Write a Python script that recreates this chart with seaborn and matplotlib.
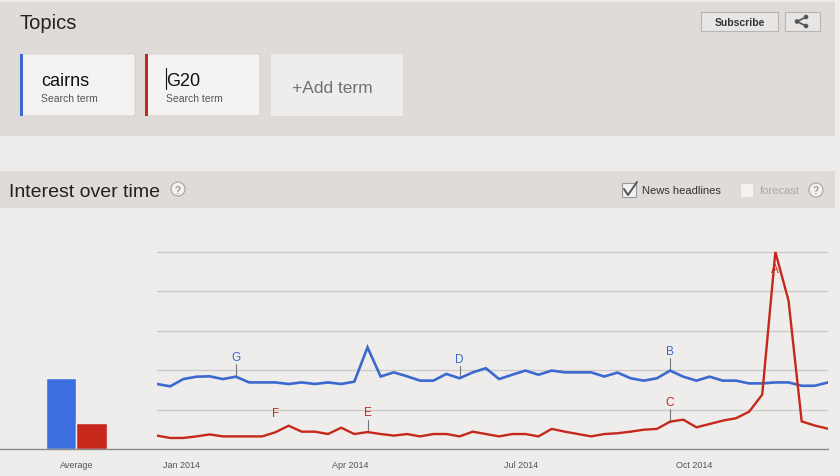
import pandas as pd
import matplotlib.pyplot as plt
import matplotlib.transforms as mtransforms
from matplotlib.patches import Rectangle, FancyBboxPatch, Ellipse
from matplotlib.lines import Line2D
import seaborn as sns

sns.set_theme(style='white')
plt.rcParams['font.family'] = ['Liberation Sans', 'DejaVu Sans']

# --- data (weekly Google Trends interest, 0-100) ---
terms = ['cairns', 'G20']
weeks = pd.date_range('2013-12-22', periods=52, freq='7D')
cairns = [33.0, 31.8, 35.5, 36.7, 36.9, 35.5, 36.7, 33.8, 33.8, 33.8,
          33.0, 33.8, 33.0, 33.8, 33.0, 34.2, 51.6, 36.8, 38.9, 36.9,
          34.7, 34.7, 38.1, 35.9, 38.9, 41.0, 35.5, 37.7, 39.8, 37.7,
          39.8, 38.9, 38.9, 38.9, 36.8, 38.8, 35.9, 34.7, 35.9, 39.8,
          36.7, 34.7, 36.7, 34.7, 34.7, 33.3, 33.3, 33.8, 33.8, 32.1,
          32.1, 33.8]
g20 = [6.8, 5.6, 5.6, 6.4, 7.4, 6.4, 6.4, 6.4, 6.4, 8.5,
       11.8, 8.8, 8.8, 7.6, 10.8, 7.6, 8.6, 7.6, 6.8, 7.6,
       6.4, 7.6, 7.6, 6.4, 8.8, 7.6, 6.4, 7.6, 7.6, 6.4,
       10.2, 8.8, 7.6, 6.4, 7.6, 8.0, 8.8, 9.8, 10.2, 13.9,
       14.9, 11.0, 12.7, 14.4, 15.6, 18.9, 27.6, 100.0, 75.3, 14.0,
       11.9, 10.3]
averages = [36, 13]
tick_dates = ['2014-01-01', '2014-04-01', '2014-07-01', '2014-10-01']
tick_labels = ['Jan 2014', 'Apr 2014', 'Jul 2014', 'Oct 2014']
# news headline markers: letter, term, week index
news_letters = ['A', 'B', 'C', 'D', 'E', 'F', 'G']
news_terms = ['G20', 'cairns', 'G20', 'cairns', 'G20', 'G20', 'cairns']
news_weeks = [47, 39, 39, 23, 16, 9, 6]

COLORS = {'cairns': '#3b69d0', 'G20': '#c4291c'}
BAR_COLORS = {'cairns': '#3c6ee0', 'G20': '#c8271c'}
BG = '#efedeb'
PANEL = '#dedbd8'

df = pd.DataFrame({
    'week': list(weeks) * 2,
    'interest': cairns + g20,
    'term': ['cairns'] * len(cairns) + ['G20'] * len(g20),
})
avg_df = pd.DataFrame({'label': ['Average'] * 2, 'value': averages, 'term': terms})

W, H = 840, 477
fig = plt.figure(figsize=(W / 100, H / 100), dpi=100, facecolor=BG)


def fx(x):
    return x / W


def fy(y):
    return 1 - y / H


def box(x0, y0, x1, y1, **kw):
    fig.add_artist(Rectangle((fx(x0), fy(y1)), fx(x1 - x0), (y1 - y0) / H,
                             transform=fig.transFigure, **kw))


def dot(x, y, r, **kw):
    fig.add_artist(Ellipse((fx(x), fy(y)), 2 * r / W, 2 * r / H,
                           transform=fig.transFigure, **kw))


def txt(x, y, s, **kw):
    fig.text(fx(x), fy(y), s, **kw)


def seg(xs, ys, **kw):
    fig.add_artist(Line2D([fx(v) for v in xs], [fy(v) for v in ys],
                          transform=fig.transFigure, **kw))


# --- header panel ---
box(0, 3, 835, 137, facecolor=PANEL, edgecolor='none')
txt(20, 29, 'Topics', fontsize=14.5, color='#222222', va='baseline')

cards = [(20, 135), (145, 260)]
for (x0, x1), term in zip(cards, terms):
    fig.add_artist(FancyBboxPatch((fx(x0 + 1), fy(117)), fx(x1 - x0 - 1), 62 / H,
                                  boxstyle='round,pad=0,rounding_size=0.004',
                                  transform=fig.transFigure,
                                  facecolor='#f4f3f1', edgecolor='#d0cdca', lw=0.6))
    box(x0, 55, x0 + 3, 117, facecolor=COLORS[term], edgecolor='none')
    txt(x0 + 21, 86, term, fontsize=13, color='#111111', va='baseline')
    txt(x0 + 21, 102, 'Search term', fontsize=7.5, color='#555555', va='baseline')
seg([166, 166], [69, 90], color='#111111', lw=0.8)

box(271, 55, 403, 117, facecolor='#efedeb', edgecolor='none')
txt(292, 93, '+Add term', fontsize=12.5, color='#707070', va='baseline')

box(701, 13, 778, 32, facecolor='#e8e6e4', edgecolor='#b8b6b4', lw=0.8)
txt(739.5, 22.5, 'Subscribe', fontsize=7.5, color='#333333', weight='bold',
    ha='center', va='center')
box(785, 13, 820, 32, facecolor='#e8e6e4', edgecolor='#b8b6b4', lw=0.8)
seg([806, 797, 806], [18, 22.5, 27], color='#555555', lw=1.2)
for px, py in [(806, 18), (797, 22.5), (806, 27)]:
    dot(px, py, 2.3, facecolor='#555555', edgecolor='none')

# --- "Interest over time" bar ---
box(0, 172, 835, 209, facecolor=PANEL, edgecolor='none')
txt(9, 197, 'Interest over time', fontsize=14, color='#222222', va='baseline')


def help_icon(x, y):
    dot(x, y, 7, facecolor='#f3f2f0', edgecolor='#aaaaaa', lw=0.9)
    txt(x, y + 0.5, '?', fontsize=7, color='#999999', weight='bold',
        ha='center', va='center')


help_icon(178, 190)
help_icon(816, 191)

box(622, 184, 636, 198, facecolor='#f2f1ef', edgecolor='#999999', lw=0.8)
seg([624, 628, 637], [190, 196, 183], color='#555555', lw=1.4)
txt(642, 191, 'News headlines', fontsize=8, color='#333333', va='center')
box(740, 184, 753, 198, facecolor='#f4f3f1', edgecolor='#dddddd', lw=0.8)
txt(760, 191, 'forecast', fontsize=8, color='#aaaaaa', va='center')

# --- line chart ---
y_top = 450 - 1.97 * 120
ax = fig.add_axes([fx(157), fy(450), fx(828 - 157), (450 - y_top) / H])
ax.set_facecolor('none')
sns.lineplot(data=df, x='week', y='interest', hue='term', palette=COLORS,
             linewidth=1.8, legend=False, ax=ax, zorder=3)
for line, term in zip(ax.get_lines(), terms):
    line.set_linewidth(1.9 if term == 'cairns' else 1.7)
    line.set_solid_joinstyle('miter')
ax.set_ylim(0, 120)
ax.set_xlim(weeks[0], weeks[-1])
ax.set_yticks([20, 40, 60, 80, 100])
ax.yaxis.grid(True, color='#cdcbc9', lw=1)
ax.xaxis.grid(False)
ax.set_yticklabels([])
ax.set_xticks(pd.to_datetime(tick_dates))
ax.set_xticklabels(tick_labels, fontsize=6.5, color='#555555')
ax.tick_params(length=0, pad=8)
shift = mtransforms.ScaledTranslation(5.5 / 100, 0, fig.dpi_scale_trans)
for lab in ax.get_xticklabels():
    lab.set_transform(lab.get_transform() + shift)
ax.set_xlabel('')
ax.set_ylabel('')
for s in ax.spines.values():
    s.set_visible(False)

series = {'cairns': cairns, 'G20': g20}
for letter, term, i in zip(news_letters, news_terms, news_weeks):
    v = series[term][i]
    if letter == 'A':
        ax.text(weeks[i], v - 8.6, letter, fontsize=8.5, color=COLORS[term],
                ha='center', va='center', zorder=2)
        continue
    ax.text(weeks[i], v + 10, letter, fontsize=8.5, color=COLORS[term],
            ha='center', va='center', zorder=4)
    if letter != 'F':
        ax.plot([weeks[i], weeks[i]], [v, v + 6.3], color='#777777', lw=0.8, zorder=2)

# --- average bars ---
bax = fig.add_axes([0, fy(450), fx(157), (450 - y_top) / H])
bax.set_facecolor('none')
sns.barplot(data=avg_df, x='label', y='value', hue='term', palette=BAR_COLORS,
            width=0.8, saturation=1, legend=False, ax=bax, edgecolor=BG, linewidth=1)
bax.set_ylim(0, 120)
bax.set_xlim(-1.003, 1.056)
bax.set_yticks([])
bax.set_xlabel('')
bax.set_ylabel('')
bax.tick_params(axis='x', length=0, pad=8, labelsize=6.5, labelcolor='#555555')
for s in bax.spines.values():
    s.set_visible(False)

seg([0, 828], [450, 450], color='#8a8a8a', lw=1)

fig.savefig('out.png', dpi=100, facecolor=BG)
